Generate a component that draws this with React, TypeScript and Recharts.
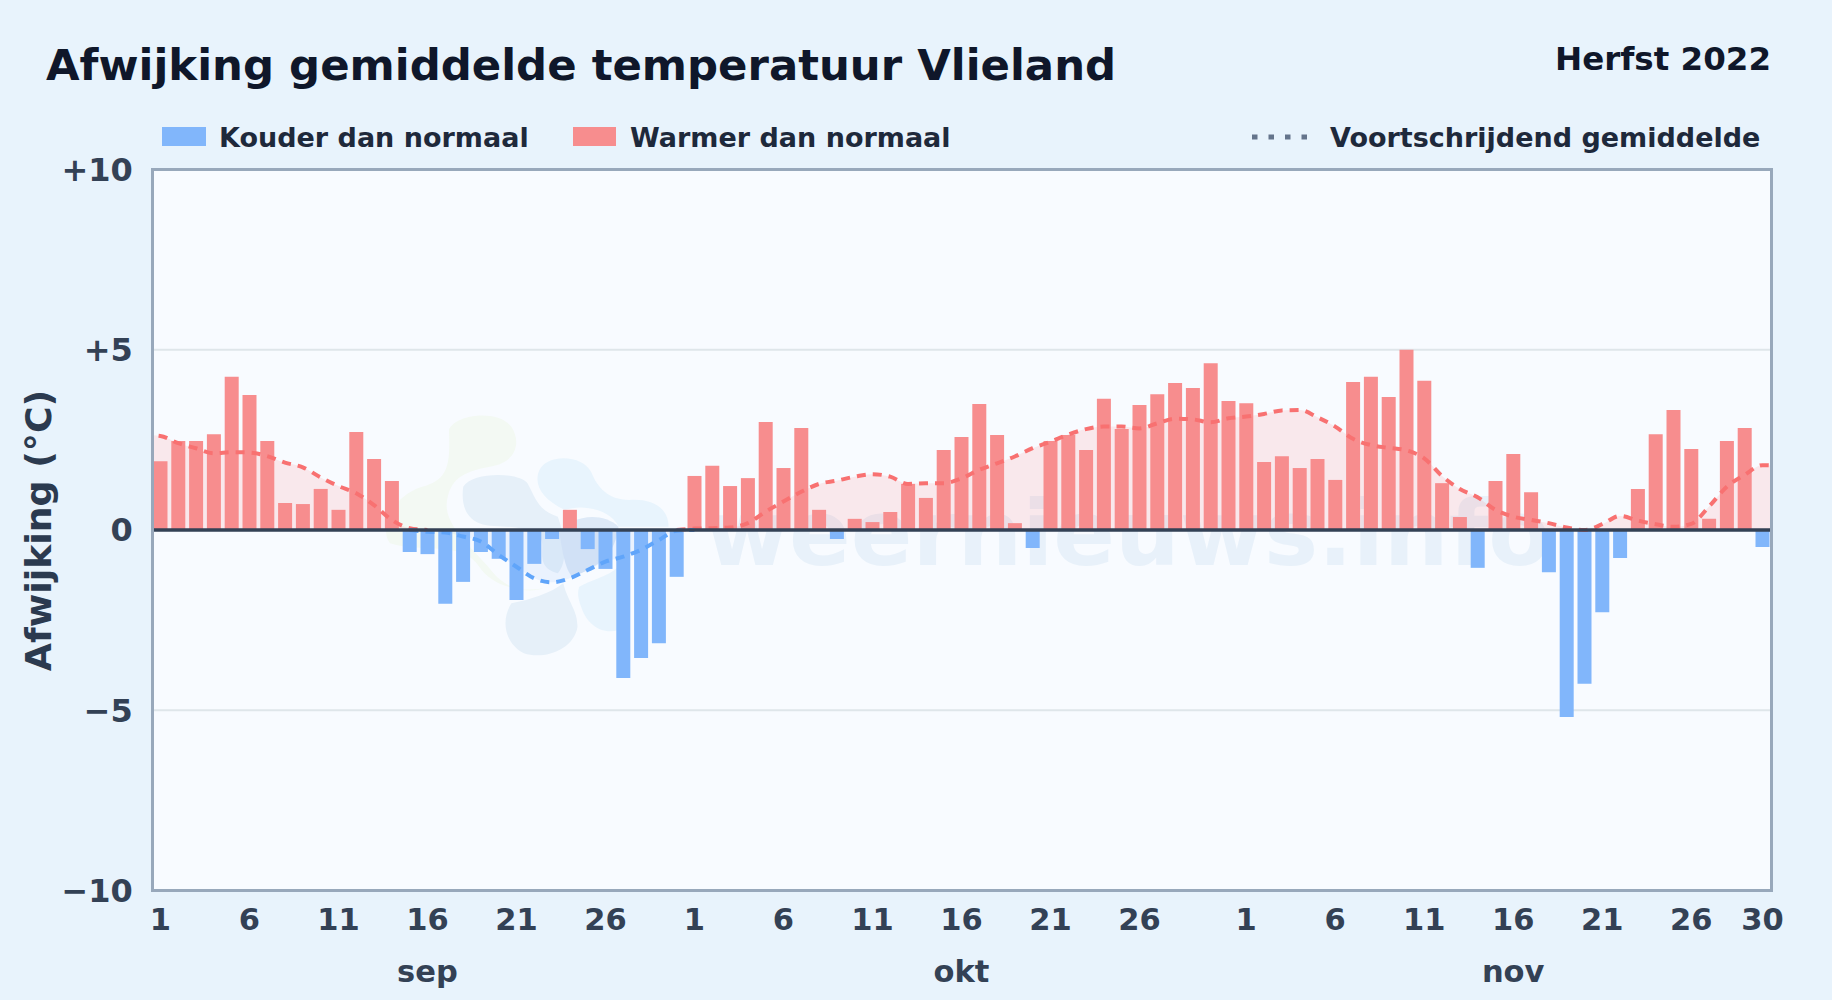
import React from 'react';
import { ComposedChart, Bar, Line, Area, XAxis, YAxis, CartesianGrid, ReferenceLine } from 'recharts';

const FONT = '"DejaVu Sans", sans-serif';

const anomalies = [
  1.91, 2.47, 2.47, 2.66, 4.25, 3.75, 2.47, 0.75, 0.72, 1.14, 0.56, 2.72, 1.97, 1.36, -0.61,
  -0.67, -2.05, -1.44, -0.61, -0.8, -1.94, -0.94, -0.25, 0.56, -0.53, -1.08, -4.11, -3.55, -3.14, -1.3,
  1.5, 1.78, 1.22, 1.44, 3.0, 1.72, 2.83, 0.56, -0.25, 0.31, 0.22, 0.5, 1.28, 0.89, 2.22, 2.58,
  3.5, 2.64, 0.19, -0.5, 2.47, 2.64, 2.22, 3.64, 2.8, 3.47, 3.77, 4.08, 3.94, 4.63, 3.58,
  3.52, 1.89, 2.05, 1.72, 1.97, 1.39, 4.11, 4.25, 3.69, 5.0, 4.14, 1.3, 0.36, -1.05, 1.36,
  2.11, 1.05, -1.17, -5.19, -4.27, -2.28, -0.78, 1.14, 2.66, 3.33, 2.25, 0.31, 2.47, 2.83, -0.47,
];

const movingAvg = [
  2.61, 2.41, 2.27, 2.13, 2.16, 2.15, 2.05, 1.87, 1.74, 1.46, 1.22, 1.02, 0.69, 0.28, 0.05,
  -0.05, -0.07, -0.18, -0.32, -0.69, -1.02, -1.34, -1.45, -1.34, -1.11, -0.88, -0.74, -0.55, -0.28, -0.02,
  0.04, 0.05, 0.07, 0.19, 0.51, 0.79, 1.06, 1.28, 1.37, 1.48, 1.55, 1.48, 1.28, 1.3, 1.3, 1.43,
  1.67, 1.85, 2.04, 2.27, 2.45, 2.65, 2.8, 2.87, 2.87, 2.82, 2.96, 3.09, 3.07, 2.99, 3.1,
  3.15, 3.22, 3.32, 3.33, 3.13, 2.87, 2.53, 2.36, 2.28, 2.21, 1.99, 1.5, 1.14, 0.91, 0.56,
  0.37, 0.28, 0.19, 0.07, 0, 0.16, 0.39, 0.26, 0.16, 0.09, 0.17, 0.65, 1.2, 1.53, 1.8,
];

const monthNames = ['sep', 'okt', 'nov'];
const monthTickDays = [16, 46, 77];
const yTicks = [-10, -5, 0, 5, 10];
const yLabels = ['−10', '−5', '0', '+5', '+10'];
const dayTicks = [1, 6, 11, 16, 21, 26, 31, 36, 41, 46, 51, 56, 62, 67, 72, 77, 82, 87, 91];
const dayTickLabels = ['1', '6', '11', '16', '21', '26', '1', '6', '11', '16', '21', '26', '1', '6', '11', '16', '21', '26', '30'];

const beforeValue = 2.64;
const afterValue = 1.78;
const xStart = 0.573;
const xEnd = 91.5;

const signedAvg = (i: number, sign: number) => {
  const v = movingAvg[i];
  if (v * sign >= 0) return v;
  const prev = movingAvg[i - 1];
  const next = movingAvg[i + 1];
  if ((prev !== undefined && prev * sign > 0) || (next !== undefined && next * sign > 0)) return 0;
  return null;
};

const rows: any[] = [
  { x: 0, pos: beforeValue, neg: null },
  ...anomalies.map((v, i) => ({
    x: i + 1,
    warm: v > 0 ? v : null,
    cold: v < 0 ? v : null,
    pos: signedAvg(i, 1),
    neg: signedAvg(i, -1),
  })),
  { x: 92, pos: afterValue, neg: null },
];

const RED_BAR = '#f78d8e';
const BLUE_BAR = '#81b6fb';
const RED_LINE = '#f87171';
const BLUE_LINE = '#60a5fa';

const abs = (style: React.CSSProperties): React.CSSProperties => ({ position: 'absolute', whiteSpace: 'nowrap', fontFamily: FONT, fontWeight: 700, lineHeight: 1, ...style });

function Watermark() {
  return (
    <svg width={1832} height={1000} style={{ position: 'absolute', left: 0, top: 0 }}>
      <g transform="translate(140,340) scale(0.35714,0.33333)">
        <path fill="#f3f9f3" d="M865 270C880 225 1000 205 1040 260C1070 310 1050 370 980 380C900 395 870 420 860 480C845 560 950 640 990 700C1030 750 1090 760 1130 745C1050 760 980 730 950 680C900 600 780 640 700 610C670 570 700 470 790 440C860 420 870 380 865 270Z" />
        <path fill="#e6f0f9" d="M905 440C930 395 1060 395 1085 430C1110 480 1115 510 1170 530C1190 590 1200 660 1170 700C1100 680 1140 620 1120 590C1060 545 1000 570 950 550C905 530 900 480 905 440Z" />
        <path fill="#e8f4fd" d="M1115 400C1130 340 1240 340 1265 400C1280 440 1310 480 1370 480C1430 475 1480 500 1480 560L1340 560C1320 510 1240 490 1190 510C1130 480 1105 440 1115 400Z" />
        <path fill="#dde9f7" d="M1175 580C1200 530 1290 510 1340 560C1330 640 1290 680 1210 710C1190 690 1180 620 1175 580Z" />
        <path fill="#e6f0f9" d="M1040 790C1090 780 1150 760 1185 730C1200 790 1225 810 1225 860C1215 930 1130 960 1075 940C1020 910 1010 840 1040 790Z" />
        <path fill="#e8f4fd" d="M1230 740C1260 720 1310 710 1340 680L1340 870C1290 885 1250 850 1235 800C1225 770 1225 755 1230 740Z" />
      </g>
      <text x={705} y={565} fontFamily={FONT} fontWeight={700} fontSize={91} fill="#e8f1fa">weernieuws.info</text>
    </svg>
  );
}

function YTitle(props: any) {
  const cy = props.viewBox.y + props.viewBox.height / 2;
  return (
    <text x={0} y={0} transform={`translate(51,${cy + 0.5}) rotate(-90)`} textAnchor="middle" fontFamily={FONT} fontWeight={700} fontSize={36.3} fill="#2b3a4f">
      Afwijking (°C)
    </text>
  );
}

export default function App() {
  return (
    <div style={{ position: 'absolute', left: 0, top: 0, width: 1832, height: 1000, background: '#e8f3fc', overflow: 'hidden' }}>
      <div style={{ position: 'absolute', left: 152, top: 169, width: 1620, height: 722, background: '#f8fbff' }} />
      <Watermark />
      <div style={abs({ left: 46, top: 44, fontSize: 43.4, color: '#0f172a' })}>Afwijking gemiddelde temperatuur Vlieland</div>
      <div style={abs({ right: 61, top: 43, fontSize: 32.5, color: '#0f172a' })}>Herfst 2022</div>

      <div style={{ position: 'absolute', left: 162, top: 127, width: 44, height: 19, background: BLUE_BAR }} />
      <div style={abs({ left: 219, top: 124, fontSize: 27, color: '#1e293b' })}>Kouder dan normaal</div>
      <div style={{ position: 'absolute', left: 573, top: 127, width: 43, height: 19, background: RED_BAR }} />
      <div style={abs({ left: 630, top: 124, fontSize: 27, color: '#1e293b' })}>Warmer dan normaal</div>
      <svg width={70} height={10} style={{ position: 'absolute', left: 1250, top: 132 }}>
        <line x1={2} y1={5} x2={58} y2={5} stroke="#64748b" strokeWidth={5} strokeDasharray="5.5 11" />
      </svg>
      <div style={abs({ left: 1330, top: 124, fontSize: 27, color: '#1e293b' })}>Voortschrijdend gemiddelde</div>

      <div style={{ position: 'absolute', left: 0, top: 0 }}>
        <ComposedChart width={1832} height={1000} data={rows} margin={{ top: 169.7, right: 60.7, bottom: 0, left: 0 }}>
          <CartesianGrid horizontal vertical={false} stroke="#dfe6ea" strokeWidth={2} />
          <XAxis
            xAxisId={0}
            type="number"
            dataKey="x"
            domain={[xStart, xEnd]}
            allowDataOverflow
            ticks={dayTicks}
            interval={0}
            height={54}
            axisLine={false}
            tickLine={false}
            tickMargin={12}
            tick={{ fontFamily: FONT, fontWeight: 700, fontSize: 30.5, fill: '#334155' }}
            tickFormatter={(v: number) => dayTickLabels[dayTicks.indexOf(v)] ?? ''}
          />
          <XAxis
            xAxisId="months"
            type="number"
            dataKey="x"
            domain={[xStart, xEnd]}
            allowDataOverflow
            ticks={monthTickDays}
            interval={0}
            height={55.7}
            axisLine={false}
            tickLine={false}
            tickMargin={10}
            tick={{ fontFamily: FONT, fontWeight: 700, fontSize: 30.5, fill: '#334155' }}
            tickFormatter={(v: number) => monthNames[monthTickDays.indexOf(v)] ?? ''}
          />
          <YAxis
            type="number"
            domain={[-10, 10]}
            ticks={yTicks}
            interval={0}
            width={152.8}
            axisLine={false}
            tickLine={false}
            tickMargin={14}
            tick={{ fontFamily: FONT, fontWeight: 700, fontSize: 32, fill: '#334155' }}
            tickFormatter={(v: number) => yLabels[yTicks.indexOf(v)]}
            label={{ content: (p: any) => <YTitle {...p} /> }}
          />
          <Area dataKey="pos" type="monotone" stroke="none" fill="#ff6b6b" fillOpacity={0.13} isAnimationActive={false} dot={false} activeDot={false} />
          <Area dataKey="neg" type="monotone" stroke="none" fill="#3b82f6" fillOpacity={0.07} isAnimationActive={false} dot={false} activeDot={false} />
          <Bar dataKey="warm" stackId="a" barSize={14} fill={RED_BAR} isAnimationActive={false} />
          <Bar dataKey="cold" stackId="a" barSize={14} fill={BLUE_BAR} isAnimationActive={false} />
          <Line dataKey="pos" type="monotone" stroke={RED_LINE} strokeWidth={4} strokeDasharray="9 7" dot={false} activeDot={false} isAnimationActive={false} />
          <Line dataKey="neg" type="monotone" stroke={BLUE_LINE} strokeWidth={4} strokeDasharray="9 7" dot={false} activeDot={false} isAnimationActive={false} />
          <ReferenceLine y={0} stroke="#334155" strokeWidth={3.5} />
        </ComposedChart>
      </div>
      <div style={{ position: 'absolute', left: 151.3, top: 168.3, width: 1621.4, height: 723.4, boxSizing: 'border-box', border: '3px solid #98a8bb', pointerEvents: 'none' }} />
    </div>
  );
}
